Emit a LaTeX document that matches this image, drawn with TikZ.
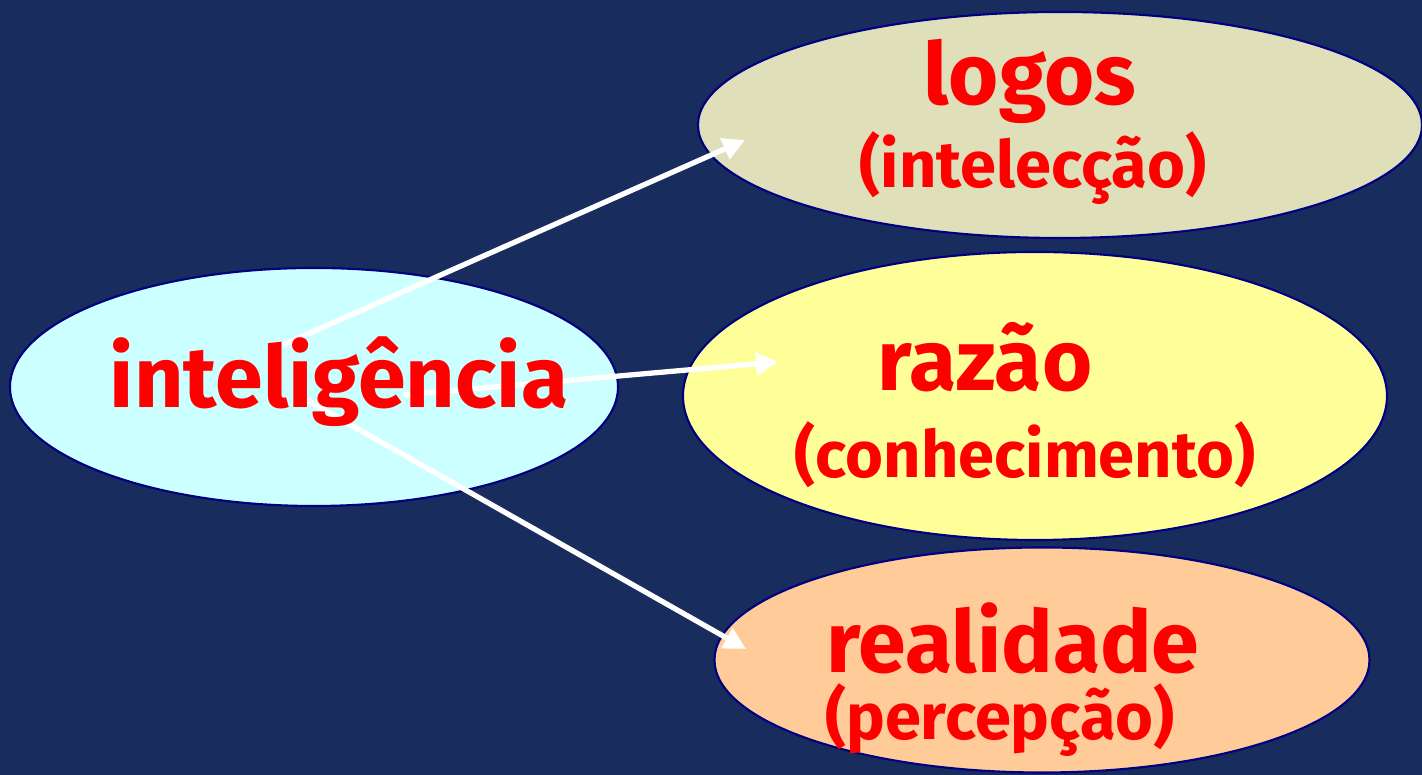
\documentclass[tikz,border=0pt]{standalone}
\usepackage{fontspec}
\setmainfont{Fira Sans}
\usetikzlibrary{calc,shapes.geometric,arrows.meta}

\definecolor{bgblue}{RGB}{24,44,93}
\definecolor{edgeblue}{RGB}{0,0,128}
\definecolor{wordred}{RGB}{255,0,0}
\definecolor{cyanfill}{RGB}{204,255,255}
\definecolor{khakifill}{RGB}{223,223,185}
\definecolor{yellowfill}{RGB}{255,255,153}
\definecolor{peachfill}{RGB}{255,204,153}

\begin{document}
\begin{tikzpicture}[
    bubble/.style={ellipse, draw=edgeblue, line width=0.6pt, inner sep=0pt},
    bigword/.style={text=wordred, font=\bfseries\fontsize{24.5}{28}\selectfont, anchor=base},
    smallword/.style={text=wordred, font=\bfseries\fontsize{18.5}{22}\selectfont, anchor=base},
    link/.style={draw=white, line width=1.5pt, -{Triangle[length=2.2mm,width=2.2mm]}}
]
    \fill [bgblue] (0, 0) rectangle (14.22, -7.75);
    \useasboundingbox (0, 0) rectangle (14.22, -7.75);

    \node [bubble, fill=cyanfill, minimum width=6.08cm, minimum height=2.38cm] (I) at (3.14, -3.87) {};
    \node [bubble, fill=khakifill, minimum width=7.24cm, minimum height=2.26cm] (L) at (10.60, -1.25) {};
    \node [bubble, fill=yellowfill, minimum width=7.04cm, minimum height=2.88cm] (R) at (10.35, -3.96) {};
    \node [bubble, fill=peachfill, minimum width=6.55cm, minimum height=2.25cm] (P) at (10.42, -6.60) {};

    \coordinate (I1) at ($(I) + (-0.31, 0.42)$);
    \coordinate (I2) at ($(I) + (0.89, -0.08)$);
    \coordinate (I3) at ($(I) + (-0.16, -0.08)$);
    \coordinate (L1) at ($(L) + (-3.15, -0.15)$);
    \coordinate (R1) at ($(R) + (-2.57, 0.34)$);
    \coordinate (P1) at ($(P) + (-2.96, 0.11)$);

    \draw [link] (I1) -- (L1);
    \draw [link] (I2) -- (R1);
    \draw [link] (I3) -- (P1);

    \node [bigword] (inteligencia) at ($(I) + (0.25, -0.21)$) {inteligência};
        \node [bigword] (logos) at ($(L) + (-0.30, 0.20)$) {logos};
        \node [smallword] (intelecao) at ($(L) + (-0.27, -0.63)$) {(intelecção)};
        \node [bigword] (razao) at ($(R) + (-0.50, 0.05)$) {razão};
        \node [smallword] (conhecimento) at ($(R) + (-0.10, -0.82)$) {(conhecimento)};
        \node [bigword] (realidade) at ($(P) + (-0.29, -0.13)$) {realidade};
        \node [smallword] (percepcao) at ($(P) + (-0.42, -0.80)$) {(percepção)};
\end{tikzpicture}
\end{document}
